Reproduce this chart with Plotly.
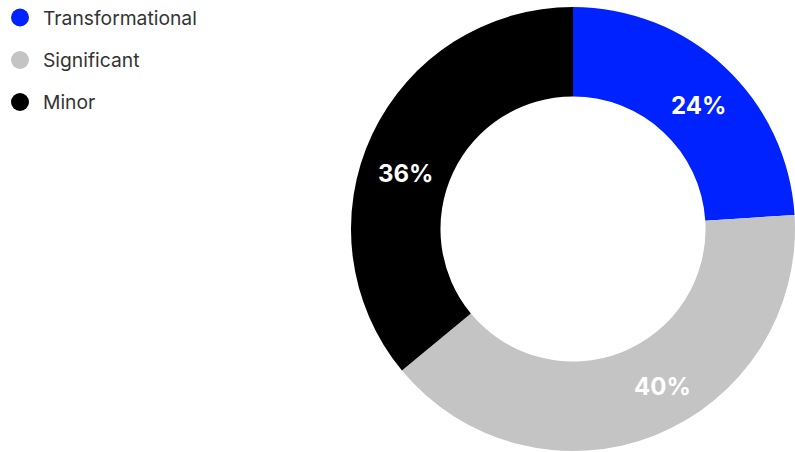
import plotly.graph_objects as go

categories = ["Transformational", "Significant", "Minor"]
shares = [24, 40, 36]
colors = ["#0022FF", "#C4C4C4", "#000000"]

W, H = 795, 452

# Pixel anchors for the percentage labels (centre of each label)
label_xy = [(698.5, 105.5), (662.5, 386), (405.5, 173)]

fig = go.Figure()
fig.add_trace(go.Pie(
    labels=categories,
    values=shares,
    sort=False,
    direction="clockwise",
    rotation=0,
    hole=0.597,
    marker=dict(colors=colors, line=dict(width=0)),
    textinfo="none",
    hoverinfo="label+percent",
    showlegend=False,
    domain=dict(x=[351 / W, 1.0], y=[1 - 451 / H, 1 - 7 / H]),
))

# Percentage labels on the ring
for v, (px, py) in zip(shares, label_xy):
    fig.add_annotation(
        x=px / W, y=1 - py / H, xref="paper", yref="paper",
        text=f"{v}%", showarrow=False, xanchor="center", yanchor="middle",
        font=dict(family="Inter", size=24, color="white", weight="bold"),
    )

# Legend drawn as circle markers with labels
row_y = [17.5, 60, 102]
for name, color, y in zip(categories, colors, row_y):
    r = 9
    fig.add_shape(
        type="circle", xref="paper", yref="paper",
        x0=(20 - r) / W, x1=(20 + r) / W,
        y0=1 - (y + r) / H, y1=1 - (y - r) / H,
        fillcolor=color, line=dict(width=0),
    )
    fig.add_annotation(
        x=41 / W, y=1 - y / H, xref="paper", yref="paper",
        text=name, showarrow=False, xanchor="left", yanchor="middle",
        font=dict(family="Inter", size=19.3, color="#333333"),
    )

fig.update_layout(
    width=W, height=H,
    margin=dict(l=0, r=0, t=0, b=0),
    paper_bgcolor="white",
    plot_bgcolor="white",
)

fig.write_html("out.html")
